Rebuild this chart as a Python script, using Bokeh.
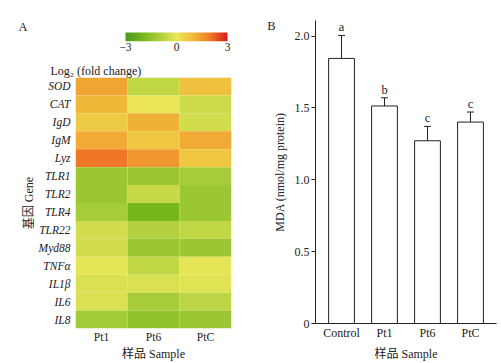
import numpy as np
from bokeh.plotting import figure
from bokeh.models import (LinearColorMapper, Range1d, FactorRange, FixedTicker,
                          LinearAxis, Whisker, TeeHead, ColumnDataSource)
from bokeh.layouts import row, column
from bokeh.embed import file_html
from bokeh.resources import INLINE
from bokeh.core.properties import value

# ---------------- data ----------------
genes = ["SOD", "CAT", "IgD", "IgM", "Lyz", "TLR1", "TLR2", "TLR4", "TLR22",
         "Myd88", "TNFα", "IL1β", "IL6", "IL8"]
samples = ["Pt1", "Pt6", "PtC"]
log2_pt1 = [1.3, 1.0, 0.6, 1.2, 2.0, -1.3, -1.3, -1.1, -0.4, -0.4, -0.1, -0.3, -0.3, -1.15]
log2_pt6 = [-0.7, 0.0, 1.1, 0.7, 1.5, -1.3, -0.6, -2.0, -0.9, -1.3, -0.7, -0.3, -1.1, -1.5]
log2_ptc = [0.8, -0.5, -0.4, 1.2, 0.7, -1.1, -1.3, -1.3, -0.7, -1.3, -0.1, -0.2, -0.75, -1.35]
colorbar_ticks = [-3, 0, 3]

groups = ["Control", "Pt1", "Pt6", "PtC"]
mda = [1.845, 1.514, 1.272, 1.402]
mda_err = [0.16, 0.057, 0.10, 0.07]
letters = ["a", "b", "c", "c"]
mda_ticks = [0, 0.5, 1.0, 1.5, 2.0]

FONT = "Liberation Serif"
CJK = "Liberation Serif, Noto Sans CJK SC"
INK = "#222222"

# ---------------- colour map ----------------
anchors = [(-3, (76, 154, 30)), (-2, (118, 184, 28)), (-1, (172, 206, 60)),
           (0, (236, 232, 90)), (1, (240, 184, 56)), (2, (240, 120, 40)), (3, (216, 28, 28))]
ax = np.array([a[0] for a in anchors], dtype=float)
ac = np.array([a[1] for a in anchors], dtype=float)
palette = []
for t in np.linspace(-3, 3, 256):
    r, g, b = (np.interp(t, ax, ac[:, k]) for k in range(3))
    palette.append("#%02x%02x%02x" % (int(round(r)), int(round(g)), int(round(b))))
mapper = LinearColorMapper(palette=palette, low=-3, high=3)


def panel_letter_axis(fig, y, letter, standoff):
    ax_ = LinearAxis(ticker=FixedTicker(ticks=[y]), major_label_overrides={y: letter},
                     axis_line_color=None, major_tick_line_color=None,
                     minor_tick_line_color=None, major_tick_in=0, major_tick_out=0,
                     major_label_standoff=standoff, major_label_text_font=FONT,
                     major_label_text_font_size="12.5px", major_label_text_color=INK,
                     major_label_orientation="horizontal")
    fig.add_layout(ax_, "left")


# ---------------- colour bar figure ----------------
cb_y_top = 2.333
cb = figure(width=245, height=55, x_range=Range1d(-5.941, 3.235), y_range=Range1d(0, cb_y_top),
            output_backend="svg", toolbar_location=None,
            min_border_left=75, min_border_right=14, min_border_top=20, min_border_bottom=14)
cb.image(image=[np.linspace(-3, 3, 256)[None, :]], x=-3, y=0, dw=6, dh=1, color_mapper=mapper)
cb.yaxis.visible = False
cb.xaxis.ticker = FixedTicker(ticks=colorbar_ticks)
cb.xaxis.major_label_overrides = {t: ("−%d" % -t if t < 0 else "%d" % t) for t in colorbar_ticks}
cb.xaxis.axis_line_color = None
cb.xaxis.major_tick_line_color = None
cb.xaxis.minor_tick_line_color = None
cb.xaxis.major_tick_in = 0
cb.xaxis.major_tick_out = 0
cb.xaxis.major_label_standoff = 1
cb.xaxis.major_label_text_font = FONT
cb.xaxis.major_label_text_font_size = "11.5px"
cb.xaxis.major_label_text_color = INK
cb.grid.visible = False
cb.outline_line_color = None
panel_letter_axis(cb, 1.556, "A", 48)

# ---------------- heatmap figure ----------------
hm_x, hm_y, hm_v = [], [], []
for s, vals in zip(samples, [log2_pt1, log2_pt6, log2_ptc]):
    for gname, v in zip(genes, vals):
        hm_x.append(s)
        hm_y.append(gname)
        hm_v.append(v)
src = ColumnDataSource(dict(x=hm_x, y=hm_y, v=hm_v))

hm = figure(width=245, height=308, x_range=FactorRange(*samples),
            y_range=FactorRange(*genes[::-1]), output_backend="svg", toolbar_location=None,
            min_border_left=75, min_border_right=14, min_border_top=22, min_border_bottom=35)
hm.rect(x="x", y="y", width=1, height=1, source=src,
        fill_color={"field": "v", "transform": mapper}, line_color=None)
hm.grid.visible = False
hm.outline_line_color = None
for axis in (hm.xaxis, hm.yaxis):
    axis.axis_line_color = None
    axis.major_tick_line_color = None
    axis.minor_tick_line_color = None
    axis.major_tick_in = 0
    axis.major_tick_out = 0
    axis.major_label_text_font = FONT
    axis.major_label_text_font_size = "11.5px"
    axis.major_label_text_color = INK
    axis.axis_label_text_font = CJK
    axis.axis_label_text_font_size = "12px"
    axis.axis_label_text_font_style = "normal"
    axis.axis_label_text_color = INK
hm.yaxis.major_label_text_font_style = "italic"
hm.yaxis.major_label_standoff = 5
hm.yaxis.axis_label = "基因 Gene"
hm.yaxis.axis_label_standoff = 0
hm.xaxis.major_label_standoff = 2
hm.xaxis.axis_label = "样品 Sample"
hm.xaxis.axis_label_standoff = 1
hm.title.text = "Log₂ (fold change)"
hm.title.align = "left"
hm.title.offset = -25
hm.title.standoff = 0
hm.title.text_font = FONT
hm.title.text_font_size = "12px"
hm.title.text_font_style = "normal"
hm.title.text_color = INK

# ---------------- bar chart figure ----------------
xs = list(range(len(groups)))
upper = [m + e for m, e in zip(mda, mda_err)]
lower = [m - e for m, e in zip(mda, mda_err)]
bsrc = ColumnDataSource(dict(x=xs, top=mda, upper=upper, lower=lower, lab=letters))

pb = figure(width=256, height=363, x_range=Range1d(-0.605, 3.605), y_range=Range1d(0, 2.109),
            output_backend="svg", toolbar_location=None,
            min_border_left=70, min_border_right=5, min_border_top=20, min_border_bottom=38)
pb.vbar(x="x", top="top", width=0.6, source=bsrc, fill_color="white",
        line_color=INK, line_width=1)
pb.add_layout(Whisker(base="x", upper="upper", lower="lower", source=bsrc,
                      line_color=INK, line_width=1,
                      upper_head=TeeHead(size=7, line_color=INK, line_width=1),
                      lower_head=TeeHead(size=7, line_color=INK, line_width=1)))
pb.text(x="x", y="upper", text="lab", source=bsrc, text_font=value(FONT),
        text_font_size="12.5px", text_align="center", text_baseline="bottom",
        y_offset=-1, text_color=INK)
pb.grid.visible = False
pb.outline_line_color = None
pb.xaxis.ticker = FixedTicker(ticks=xs)
pb.xaxis.major_label_overrides = {i: g for i, g in enumerate(groups)}
pb.yaxis.ticker = FixedTicker(ticks=mda_ticks)
pb.yaxis.major_label_overrides = {t: ("0" if t == 0 else "%.1f" % t) for t in mda_ticks}
for axis in (pb.xaxis, pb.yaxis):
    axis.axis_line_color = INK
    axis.minor_tick_line_color = None
    axis.major_label_text_font = FONT
    axis.major_label_text_font_size = "12px"
    axis.major_label_text_color = INK
    axis.axis_label_text_font = CJK
    axis.axis_label_text_font_size = "12px"
    axis.axis_label_text_font_style = "normal"
    axis.axis_label_text_color = INK
pb.xaxis.major_tick_line_color = None
pb.xaxis.major_tick_in = 0
pb.xaxis.major_tick_out = 0
pb.yaxis.major_tick_line_color = INK
pb.yaxis.major_tick_out = 4
pb.yaxis.major_tick_in = 0
pb.yaxis.major_label_standoff = 2
pb.yaxis.axis_label = "MDA (nmol/mg protein)"
pb.yaxis.axis_label_standoff = 5
pb.xaxis.major_label_standoff = 2
pb.xaxis.axis_label = "样品 Sample"
pb.xaxis.axis_label_standoff = 4
panel_letter_axis(pb, 2.074, "B", -6)

layout = row(column(cb, hm), pb)
open("out.html", "w").write(file_html(layout, INLINE))
